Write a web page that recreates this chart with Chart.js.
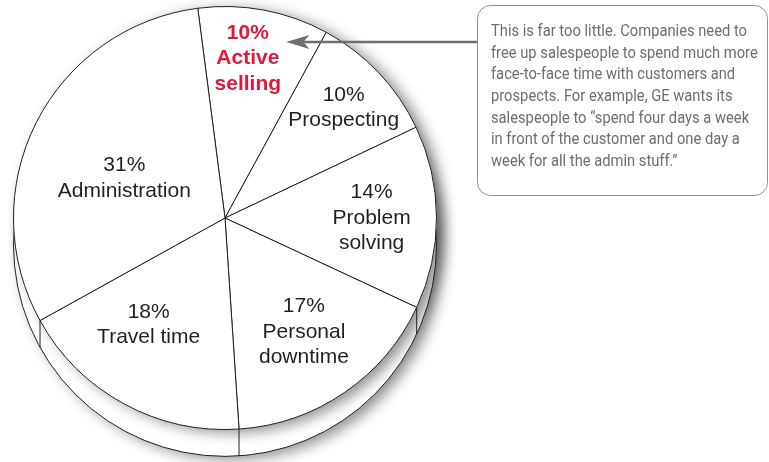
<!DOCTYPE html>
<html>
<head>
<meta charset="utf-8">
<script src="https://cdn.jsdelivr.net/npm/chart.js@4/dist/chart.umd.min.js"></script>
<style>
  html, body { margin: 0; padding: 0; background: #ffffff; }
  #wrap { width: 769px; height: 462px; position: relative; }
</style>
</head>
<body>
<div id="wrap"><canvas id="c" width="769" height="462"></canvas></div>
<script>
// ---- data ----
const categories = ['Active selling', 'Prospecting', 'Problem solving', 'Personal downtime', 'Travel time', 'Administration'];
const shares = [10, 10, 14, 17, 18, 31];
const nameLines = [['Active', 'selling'], ['Prospecting'], ['Problem', 'solving'], ['Personal', 'downtime'], ['Travel time'], ['Administration']];
const highlighted = [true, false, false, false, false, false];
const calloutLines = [
  'This is far too little. Companies need to',
  'free up salespeople to spend much more',
  'face-to-face time with customers and',
  'prospects. For example, GE wants its',
  'salespeople to \u201Cspend four days a week',
  'in front of the customer and one day a',
  'week for all the admin stuff.\u201D'
];

// ---- layout / style ----
const labelAnchor = [[0.108, -0.759], [0.561, -0.526], [0.693, -0.005], [0.373, 0.533], [-0.361, 0.500], [-0.476, -0.193]];
const depthFrac = 0.127;
const ink = '#231f20';
const red = '#e2183b';
const grey = '#6d6e71';

const pie3d = {
  id: 'pie3d',
  beforeDatasetsDraw(chart) {
    const arcs = chart.getDatasetMeta(0).data;
    if (!arcs.length) return;
    const cx = arcs[0].x, cy = arcs[0].y, r = arcs[0].outerRadius;
    const d = r * depthFrac;
    const ctx = chart.ctx;
    ctx.save();
    ctx.shadowColor = 'rgba(0,0,0,0.45)';
    ctx.shadowBlur = 14;
    ctx.shadowOffsetX = 7;
    ctx.shadowOffsetY = 3;
    ctx.fillStyle = '#ffffff';
    ctx.beginPath();
    ctx.arc(cx, cy + d, r, 0, Math.PI * 2);
    ctx.fill();
    ctx.beginPath();
    ctx.arc(cx, cy, r, 0, Math.PI * 2);
    ctx.fill();
    ctx.restore();
    ctx.save();
    ctx.strokeStyle = ink;
    ctx.lineWidth = 1;
    ctx.beginPath();
    ctx.arc(cx, cy + d, r, 0, Math.PI * 2);
    ctx.stroke();
    arcs.forEach(a => {
      const ang = a.startAngle;
      const s = Math.sin(ang);
      if (s > 0.05) {
        const x = cx + r * Math.cos(ang), y = cy + r * s;
        ctx.beginPath();
        ctx.moveTo(x, y);
        ctx.lineTo(x, y + d);
        ctx.stroke();
      }
    });
    ctx.restore();
  },
  afterDraw(chart) {
    const arcs = chart.getDatasetMeta(0).data;
    if (!arcs.length) return;
    const cx = arcs[0].x, cy = arcs[0].y, r = arcs[0].outerRadius;
    const ctx = chart.ctx;
    // slice labels
    ctx.save();
    ctx.textAlign = 'center';
    ctx.textBaseline = 'middle';
    const lh = 25.5;
    arcs.forEach((a, i) => {
      const lines = [shares[i] + '%'].concat(nameLines[i]);
      const bx = cx + labelAnchor[i][0] * r;
      const by = cy + labelAnchor[i][1] * r;
      ctx.fillStyle = highlighted[i] ? red : ink;
      ctx.font = (highlighted[i] ? 'bold ' : '') + '21px "Liberation Sans", Arial, sans-serif';
      const y0 = by - (lines.length - 1) * lh / 2;
      lines.forEach((t, k) => ctx.fillText(t, bx, y0 + k * lh + 1));
    });
    ctx.restore();

    // callout box
    const bxL = 477, bxT = 5, bxR = 767, bxB = 195, rad = 13;
    ctx.save();
    ctx.strokeStyle = '#8e8f92';
    ctx.lineWidth = 1;
    ctx.beginPath();
    ctx.moveTo(bxL + rad, bxT + 0.5);
    ctx.arcTo(bxR + 0.5, bxT + 0.5, bxR + 0.5, bxB, rad);
    ctx.arcTo(bxR + 0.5, bxB + 0.5, bxL, bxB + 0.5, rad);
    ctx.arcTo(bxL + 0.5, bxB + 0.5, bxL + 0.5, bxT, rad);
    ctx.arcTo(bxL + 0.5, bxT + 0.5, bxR, bxT + 0.5, rad);
    ctx.closePath();
    ctx.stroke();

    // arrow
    const ay = 42;
    const tipX = cx + 0.29 * r;
    ctx.strokeStyle = grey;
    ctx.fillStyle = grey;
    ctx.lineWidth = 2.6;
    ctx.beginPath();
    ctx.moveTo(tipX + 16, ay);
    ctx.lineTo(bxL, ay);
    ctx.stroke();
    ctx.beginPath();
    ctx.moveTo(tipX, ay);
    ctx.lineTo(tipX + 23, ay - 7);
    ctx.lineTo(tipX + 17, ay);
    ctx.lineTo(tipX + 23, ay + 7);
    ctx.closePath();
    ctx.fill();

    // callout text (condensed)
    ctx.font = '17px Roboto, "Liberation Sans", sans-serif';
    ctx.fillStyle = grey;
    ctx.textAlign = 'left';
    ctx.textBaseline = 'middle';
    const sx = 256 / ctx.measureText(calloutLines[0]).width;
    calloutLines.forEach((t, k) => {
      ctx.save();
      ctx.translate(491, 32 + k * 21.6);
      ctx.scale(sx, 1);
      ctx.fillText(t, 0, 0);
      ctx.restore();
    });
    ctx.restore();
  }
};

new Chart(document.getElementById('c'), {
  type: 'pie',
  data: {
    labels: categories,
    datasets: [{
      data: shares,
      backgroundColor: '#ffffff',
      borderColor: ink,
      borderWidth: 1,
      hoverOffset: 0
    }]
  },
  options: {
    responsive: false,
    animation: false,
    rotation: -7.4,
    layout: { padding: { left: 13, right: 332, top: 6, bottom: 32 } },
    plugins: {
      legend: { display: false },
      tooltip: { enabled: false }
    },
    events: []
  },
  plugins: [pie3d]
});
</script>
</body>
</html>
